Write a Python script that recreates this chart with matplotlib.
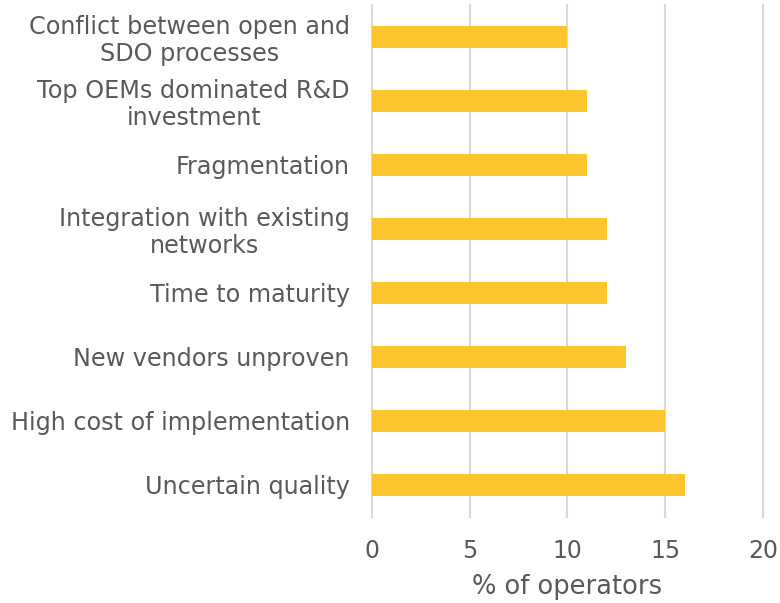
import matplotlib
matplotlib.use('Agg')
import matplotlib.pyplot as plt

# categories listed bottom to top
categories = [
    'Uncertain quality',
    'High cost of implementation',
    'New vendors unproven',
    'Time to maturity',
    'Integration with existing\nnetworks',
    'Fragmentation',
    'Top OEMs dominated R&D\ninvestment',
    'Conflict between open and\nSDO processes',
]
values = [16, 15, 13, 12, 12, 11, 11, 10]
xticks = [0, 5, 10, 15, 20]

bar_color = '#FFC52F'
text_color = '#595959'
grid_color = '#D9D9D9'

plt.rcParams['font.family'] = ['DejaVu Sans']

fig = plt.figure(figsize=(7.8, 6.03), dpi=100)
ax = fig.add_axes([0.477, 0.143, 0.501, 0.849])

ax.barh(range(len(categories)), values, height=0.35, color=bar_color, zorder=3)

ax.set_xlim(0, 20)
ax.set_ylim(-0.5, len(categories) - 0.5)
ax.set_xticks(xticks)
ax.set_yticks(range(len(categories)))
ax.set_yticklabels(categories, ha='right', multialignment='center', linespacing=1.15)
ax.tick_params(axis='y', length=0, pad=16, labelsize=17.2, labelcolor=text_color)
ax.tick_params(axis='x', length=0, pad=16, labelsize=17, labelcolor=text_color)
ax.xaxis.grid(True, color=grid_color, linewidth=1.5, zorder=0)
for gl in ax.get_xgridlines():
    gl.set_clip_on(False)
for s in ax.spines.values():
    s.set_visible(False)

ax.set_xlabel('% of operators', fontsize=18.5, color=text_color, labelpad=8)

fig.savefig('out.png', dpi=100)
